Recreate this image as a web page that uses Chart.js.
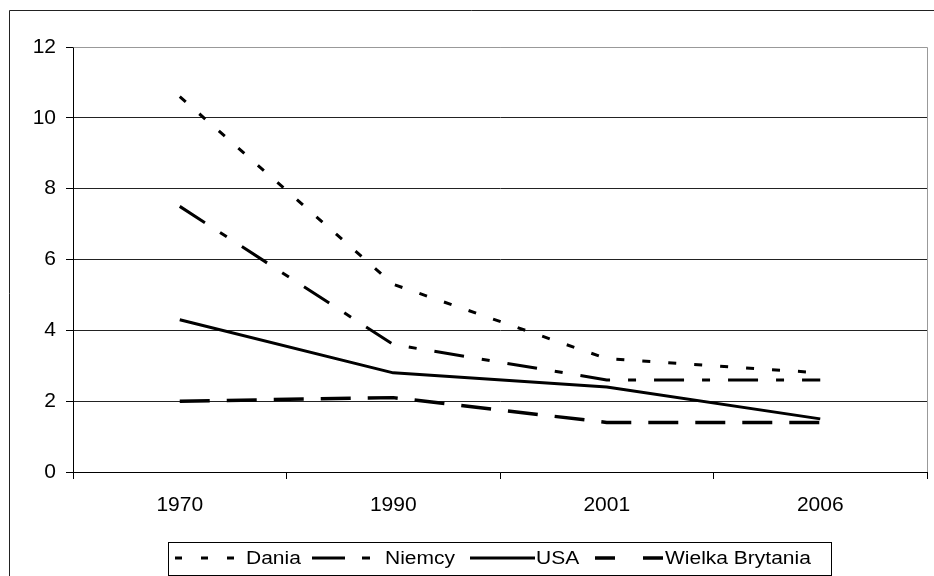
<!DOCTYPE html>
<html><head><meta charset="utf-8">
<script src="https://cdn.jsdelivr.net/npm/chart.js@4/dist/chart.umd.min.js"></script>
<style>html,body{margin:0;padding:0;background:#fff;overflow:hidden}canvas{display:block}</style>
</head><body>
<canvas id="c" width="934" height="576" style="width:934px;height:576px"></canvas>
<script>
const categories = ['1970', '1990', '2001', '2006'];
const dania = [10.6, 5.3, 3.2, 2.8];
const niemcy = [7.5, 3.6, 2.6, 2.6];
const usa = [4.3, 2.8, 2.4, 1.5];
const wielkaBrytania = [2.0, 2.1, 1.4, 1.4];
const yTicks = [0, 2, 4, 6, 8, 10, 12];
const seriesNames = ['Dania', 'Niemcy', 'USA', 'Wielka Brytania'];

const FONT = "'Liberation Sans', Arial, sans-serif";

const framePlugin = {
  id: 'framePlugin',
  beforeDraw(chart) {
    const c = chart.ctx;
    c.save();
    c.fillStyle = '#fff';
    c.fillRect(0, 0, chart.width, chart.height);
    c.strokeStyle = '#222';
    c.lineWidth = 1;
    c.beginPath();
    c.moveTo(9.5, chart.height);
    c.lineTo(9.5, 10.5);
    c.lineTo(chart.width, 10.5);
    c.stroke();
    c.restore();
  },
  beforeDatasetsDraw(chart) {
    const a = chart.chartArea, c = chart.ctx;
    c.save();
    c.strokeStyle = '#999';
    c.lineWidth = 1;
    c.beginPath();
    c.moveTo(Math.round(a.left) + 0.5, Math.round(a.top) + 0.5);
    c.lineTo(Math.round(a.right) + 0.5, Math.round(a.top) + 0.5);
    c.lineTo(Math.round(a.right) + 0.5, Math.round(a.bottom));
    c.stroke();
    c.restore();
  }
};

const legendSpec = [
  { dash: [7, 19], x0: 175, x1: 234, tx: 246 },
  { dash: [33, 17, 8, 100], x0: 312, x1: 370, tx: 385 },
  { dash: [], x0: 470, x1: 535, tx: 536 },
  { dash: [20, 28], x0: 595, x1: 663, tx: 665 }
];

const legendPlugin = {
  id: 'customLegend',
  afterDraw(chart) {
    const c = chart.ctx;
    c.save();
    c.strokeStyle = '#000';
    c.lineWidth = 1;
    c.strokeRect(168.5, 542.5, 663, 33);
    const ly = 558;
    chart.data.datasets.forEach((ds, i) => {
      const s = legendSpec[i];
      c.save();
      c.strokeStyle = '#000';
      c.lineWidth = ds.borderWidth;
      c.lineCap = 'butt';
      c.setLineDash(s.dash);
      c.beginPath();
      c.moveTo(s.x0, ly);
      c.lineTo(s.x1, ly);
      c.stroke();
      c.restore();
      c.save();
      c.fillStyle = '#000';
      c.font = '17.5px ' + FONT;
      c.textBaseline = 'middle';
      c.textAlign = 'left';
      c.translate(s.tx, ly + 1);
      c.scale(1.2, 1);
      c.fillText(ds.label, 0, 0);
      c.restore();
    });
    c.restore();
  }
};

new Chart(document.getElementById('c'), {
  type: 'line',
  data: {
    labels: categories,
    datasets: [
      { label: seriesNames[0], data: dania, borderDash: [8, 18], borderWidth: 3 },
      { label: seriesNames[1], data: niemcy, borderDash: [30, 18, 8, 18], borderWidth: 3 },
      { label: seriesNames[2], data: usa, borderDash: [], borderWidth: 3 },
      { label: seriesNames[3], data: wielkaBrytania, borderDash: [30, 17], borderWidth: 3.5 }
    ].map(d => Object.assign({
      borderColor: '#000', backgroundColor: '#000', pointRadius: 0, pointHoverRadius: 0,
      tension: 0, fill: false, borderCapStyle: 'butt', borderJoinStyle: 'round'
    }, d))
  },
  options: {
    responsive: false,
    animation: false,
    devicePixelRatio: 1,
    layout: { padding: { left: 0, top: 47, right: 7, bottom: 44 } },
    plugins: { legend: { display: false }, tooltip: { enabled: false } },
    scales: {
      x: {
        type: 'category',
        offset: true,
        grid: { display: true, drawOnChartArea: false, drawTicks: true, tickLength: 7, color: '#000', offset: true },
        border: { display: true, color: '#000', width: 1 },
        ticks: { color: '#000', font: { family: FONT, size: 21 }, padding: 14, maxRotation: 0, autoSkip: false },
        afterFit(s) { s.height = 60; }
      },
      y: {
        min: 0, max: 12,
        afterBuildTicks(s) { s.ticks = yTicks.map(v => ({ value: v })); },
        ticks: { color: '#000', font: { family: FONT, size: 21 }, padding: 10 },
        grid: {
          color: ctx => (ctx.tick && ctx.tick.value === 12) ? '#999' : '#222',
          tickColor: '#000', tickLength: 7, drawTicks: true
        },
        border: { display: true, color: '#000', width: 1 },
        afterFit(s) { s.width = 73; }
      }
    }
  },
  plugins: [framePlugin, legendPlugin]
});
</script>
</body></html>
